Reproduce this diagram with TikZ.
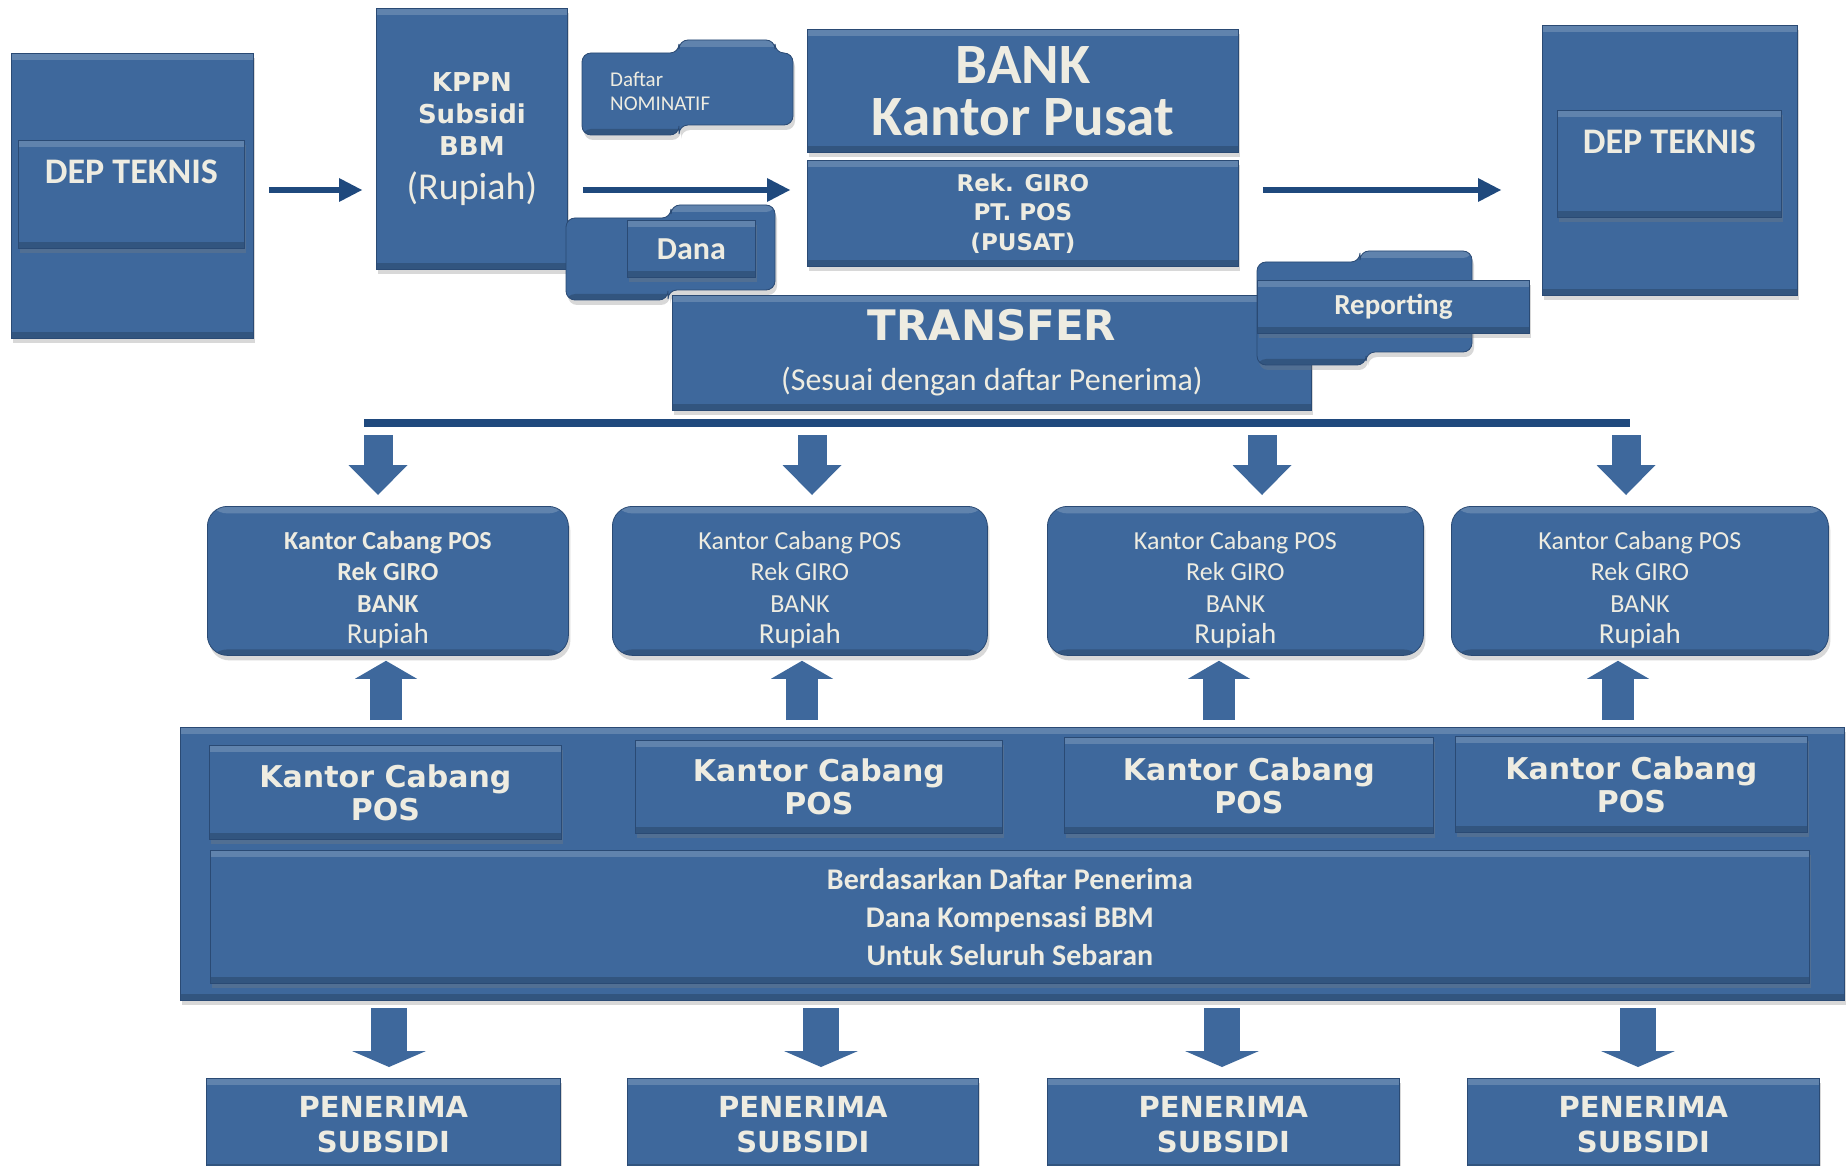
\documentclass[tikz,border=0pt]{standalone}
\usepackage{fontspec}
\setmainfont{Carlito}
\newfontfamily\heavyfont{DejaVu Sans}
\usetikzlibrary{arrows.meta,positioning,shadows,calc}
\definecolor{boxblue}{RGB}{62,104,156}
\definecolor{boxedge}{RGB}{42,74,116}
\definecolor{arrowblue}{RGB}{31,73,125}
\definecolor{cream}{RGB}{238,236,225}
\newcommand{\fsz}[2]{\fontsize{#1}{#2}\selectfont}

\begin{document}
\begin{tikzpicture}[x=1pt, y=-1pt,
   bevel/.style={path picture={
      \fill[white, opacity=.18] (path picture bounding box.north west) rectangle ([yshift=-7pt]path picture bounding box.north east);
      \fill[black, opacity=.18] ([yshift=6pt]path picture bounding box.south west) rectangle (path picture bounding box.south east);}},
   boxshadow/.style={drop shadow={shadow xshift=2pt, shadow yshift=-5pt, opacity=.3}},
   box/.style={fill=boxblue, draw=boxedge, line width=.8pt, bevel, boxshadow,
      anchor=north west, inner sep=0pt, text=cream, align=center},
   cb/.style={box, rounded corners=20pt, minimum height=149pt},
   scroll/.style={fill=boxblue, draw=boxedge, line width=.8pt, rounded corners=9pt, bevel, boxshadow},
   txt/.style={text=cream, align=center, inner sep=0pt},
   flow/.style={draw=arrowblue, line width=6pt, -{Triangle[width=24pt, length=23pt, line width=0pt]}},
   bar/.style={draw=arrowblue, line width=8pt},
   dnarrow/.style={draw=boxblue, line width=29pt, -{Triangle[width=59pt, length=30pt, line width=0pt]},
      shorten <=8pt, shorten >=11pt},
   uparrow/.style={draw=boxblue, line width=32pt, -{Triangle[width=62pt, length=18pt, line width=0pt]},
      shorten <=7pt, shorten >=5pt},
   botarrow/.style={draw=boxblue, line width=36pt, -{Triangle[width=74pt, length=16pt, line width=0pt]},
      shorten <=8pt, shorten >=11pt}]
   \useasboundingbox (0,0) rectangle (1848,1166);
   \fill[white] (0,0) rectangle (1848,1166);
   \clip (0,0) rectangle (1848,1166);

   % top row
   \node[box, minimum width=242pt, minimum height=285pt] (dep1) at (11,53) {};
   \node[box, minimum width=226pt, minimum height=108pt] (depin1) at (18,140) {};
   \node[txt, font=\fsz{36}{40}\bfseries] (deptx1) at ([yshift=-32pt]depin1.north) {DEP TEKNIS};

   \node[box, minimum width=191pt, minimum height=261pt, font=\heavyfont\bfseries\fsz{26}{32}] (kppn) at (376,8)
      {KPPN\\Subsidi\\BBM\\[12pt]\normalfont\fsz{38}{42}(Rupiah)};

   \filldraw[scroll] (582,53) -- (679,53) -- (679,40) -- (775,40) -- (775,53) -- (793,53)
      -- (793,125) -- (679,125) -- (679,135) -- (582,135) -- cycle;
   \node[txt, align=left, anchor=west, font=\fsz{21}{24}] (daftar) at (610,91) {Daftar\\NOMINATIF};

   \filldraw[scroll] (566,218) -- (671,218) -- (671,205) -- (775,205) -- (775,290)
      -- (668,290) -- (668,300) -- (566,300) -- cycle;
   \node[box, minimum width=128pt, minimum height=57pt, font=\fsz{32}{36}\bfseries] (dana) at (627,220) {Dana};

   \node[box, minimum width=431pt, minimum height=123pt, font=\fsz{57}{52}\bfseries] (bank) at (807,29) {BANK\\Kantor Pusat};
   \node[box, minimum width=431pt, minimum height=106pt, font=\heavyfont\bfseries\fsz{23}{29.5}] (giro) at (807,160)
      {Rek. GIRO\\PT. POS\\(PUSAT)};

   \node[box, minimum width=255pt, minimum height=270pt] (dep2) at (1542,25) {};
   \node[box, minimum width=224pt, minimum height=107pt] (depin2) at (1557,110) {};
   \node[txt, font=\fsz{36}{40}\bfseries] (deptx2) at ([yshift=-32pt]depin2.north) {DEP TEKNIS};

   \node[box, minimum width=639pt, minimum height=115pt, font=\fsz{32}{50}] (transfer) at (672,295)
      {\heavyfont\bfseries\fsz{42}{50}TRANSFER\\(Sesuai dengan daftar Penerima)};

   \filldraw[scroll] (1257,262) -- (1360,262) -- (1360,251) -- (1472,251) -- (1472,352)
      -- (1366,352) -- (1366,365) -- (1257,365) -- cycle;
   \node[box, minimum width=272pt, minimum height=53pt, font=\fsz{29}{32}\bfseries] (report) at (1257,280) {Reporting};

   \coordinate (ay) at (0,190);
   \draw[flow, shorten <=15pt, shorten >=14pt] (dep1.east |- ay) -- (kppn.west |- ay);
   \draw[flow, shorten <=15pt, shorten >=17pt] (kppn.east |- ay) -- (giro.west |- ay);
   \draw[flow, shorten <=24pt, shorten >=41pt] (giro.east |- ay) -- (dep2.west |- ay);

   % cabang pos
   \node[cb, minimum width=361pt] (cb1) at (207,506) {};
   \node[cb, minimum width=375pt] (cb2) at (612,506) {};
   \node[cb, minimum width=376pt] (cb3) at (1047,506) {};
   \node[cb, minimum width=377pt] (cb4) at (1451,506) {};
   \node[txt, font=\fsz{26}{31.5}] (cbt1) at ([yshift=-9pt]cb1.center)
      {\bfseries Kantor Cabang POS\\\bfseries Rek GIRO\\\bfseries BANK\\\mdseries\fsz{29}{35}Rupiah};
   \foreach \i in {2,3,4}
      \node[txt, font=\fsz{26}{31.5}] (cbt\i) at ([yshift=-9pt]cb\i.center)
         {Kantor Cabang POS\\Rek GIRO\\BANK\\\fsz{29}{35}Rupiah};

   \coordinate (barl) at (364,423);
   \coordinate (barr) at (1630,423);
   \draw[bar] (barl) -- (barr);
   \foreach \i/\x in {1/378, 2/812, 3/1262, 4/1626} {
      \coordinate (d\i) at (\x,427);
      \draw[dnarrow] (d\i) -- (d\i |- cb\i.north);
   }

   % kantor cabang
   \node[box, minimum width=1664pt, minimum height=273pt] (pos) at (180,727) {};
   \node[box, minimum width=352pt, minimum height=94pt, font=\heavyfont\bfseries\fsz{30}{33}] (kp1) at (209,745) {Kantor Cabang\\POS};
   \node[box, minimum width=367pt, minimum height=93pt, font=\heavyfont\bfseries\fsz{30}{33}] (kp2) at (635,740) {Kantor Cabang\\POS};
   \node[box, minimum width=369pt, minimum height=96pt, font=\heavyfont\bfseries\fsz{30}{33}] (kp3) at (1064,737) {Kantor Cabang\\POS};
   \node[box, minimum width=352pt, minimum height=96pt, font=\heavyfont\bfseries\fsz{30}{33}] (kp4) at (1455,736) {Kantor Cabang\\POS};
   \node[box, minimum width=1599pt, minimum height=133pt, font=\fsz{30}{38}\bfseries] (berdasar) at (210,850)
      {Berdasarkan Daftar Penerima\\Dana Kompensasi BBM\\Untuk Seluruh Sebaran};

   \foreach \i/\x in {1/386, 2/802, 3/1219, 4/1618} {
      \coordinate (u\i) at (\x,727);
      \draw[uparrow] (u\i) -- (u\i |- cb\i.south);
   }

   % penerima
   \node[box, minimum width=354pt, minimum height=92pt, font=\heavyfont\bfseries\fsz{29}{35}] (pen1) at (206,1078) {PENERIMA\\SUBSIDI};
   \node[box, minimum width=351pt, minimum height=92pt, font=\heavyfont\bfseries\fsz{29}{35}] (pen2) at (627,1078) {PENERIMA\\SUBSIDI};
   \node[box, minimum width=352pt, minimum height=92pt, font=\heavyfont\bfseries\fsz{29}{35}] (pen3) at (1047,1078) {PENERIMA\\SUBSIDI};
   \node[box, minimum width=352pt, minimum height=92pt, font=\heavyfont\bfseries\fsz{29}{35}] (pen4) at (1467,1078) {PENERIMA\\SUBSIDI};

   \foreach \i/\x in {1/389, 2/821, 3/1222, 4/1638} {
      \coordinate (b\i) at (\x,1000);
      \draw[botarrow] (b\i) -- (b\i |- pen\i.north);
   }
\end{tikzpicture}
\end{document}
